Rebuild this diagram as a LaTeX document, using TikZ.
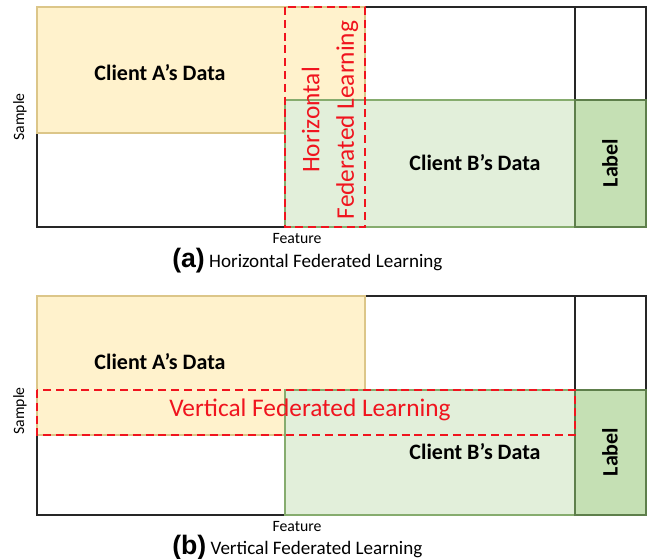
\documentclass[tikz,border=0pt]{standalone}
\usepackage{fontspec}
\setmainfont{Carlito}
\newfontfamily\capfont{Liberation Sans}
\newcommand\subtag[1]{{\fontsize{20}{24}\selectfont\capfont\bfseries #1}}
\definecolor{aFill}{HTML}{FFF2CC}
\definecolor{aLine}{HTML}{DCC689}
\definecolor{bFill}{HTML}{E2EFDA}
\definecolor{bLine}{HTML}{86AC6E}
\definecolor{lblFill}{HTML}{C5E0B4}
\definecolor{lblLine}{HTML}{5E7F4B}
\definecolor{flRed}{HTML}{F0141E}
\begin{document}
\begin{tikzpicture}[x=0.75pt,y=0.75pt,
  frame/.style={draw=black!85,line width=0.9pt,fill=white},
  clientA/.style={draw=aLine,line width=0.9pt,fill=aFill},
  clientB/.style={draw=bLine,line width=0.9pt,fill=bFill},
  labelcol/.style={draw=lblLine,line width=0.9pt,fill=lblFill},
  fedbox/.style={draw=flRed,line width=1.6pt,dash pattern=on 6pt off 3.6pt},
  datatext/.style={font=\fontsize{16.5}{20}\selectfont\bfseries,inner sep=0pt},
  fedtext/.style={text=flRed,font=\fontsize{19}{26}\selectfont,inner sep=0pt,align=center},
  axistext/.style={font=\fontsize{11.8}{14}\selectfont,inner sep=0pt},
  captext/.style={font=\fontsize{14.3}{17}\selectfont,inner sep=0pt,anchor=base west}
]
\useasboundingbox (0,0) rectangle (650,-559);

% ---------- (a) horizontal partition ----------
\draw[frame] (37,-7) rectangle (646,-227);
\draw[black!85,line width=0.9pt] (575,-7) -- (575,-100);
\draw[clientA] (37,-7) rectangle (365,-133);
\draw[clientB] (285,-100) rectangle (575,-227);
\draw[labelcol] (575,-100) rectangle (646,-227);
\draw[fedbox] (285,-7) rectangle (365,-227);

\node[datatext] (aA) at (160,-73) {Client A’s Data};
\node[datatext] (aB) at (475,-163) {Client B’s Data};
\node[datatext,rotate=90] (aL) at (610,-163) {Label};
\node[fedtext,rotate=90] (aFed) at (330,-120) {Horizontal\\Federated Learning};
\node[axistext,rotate=90] (aS) at (20,-117) {Sample};
\node[axistext] (aF) at (297,-239) {Feature};
\node[captext] (aCap) at (172,-268) {\subtag{(a)} Horizontal Federated Learning};

% ---------- (b) vertical partition ----------
\draw[frame] (37,-296) rectangle (646,-515);
\draw[black!85,line width=0.9pt] (575,-296) -- (575,-390);
\draw[clientA] (37,-296) rectangle (365,-435);
\draw[clientB] (285,-390) rectangle (575,-515);
\draw[labelcol] (575,-390) rectangle (646,-515);
\draw[fedbox] (37,-390) rectangle (575,-435);

\node[datatext] (bA) at (160,-362) {Client A’s Data};
\node[datatext] (bB) at (475,-452) {Client B’s Data};
\node[datatext,rotate=90] (bL) at (610,-452) {Label};
\node[fedtext] (bFed) at (310,-410) {Vertical Federated Learning};
\node[axistext,rotate=90] (bS) at (20,-411) {Sample};
\node[axistext] (bF) at (297,-527) {Feature};
\node[captext] (bCap) at (172,-554) {\subtag{(b)} Vertical Federated Learning};
\end{tikzpicture}
\end{document}
